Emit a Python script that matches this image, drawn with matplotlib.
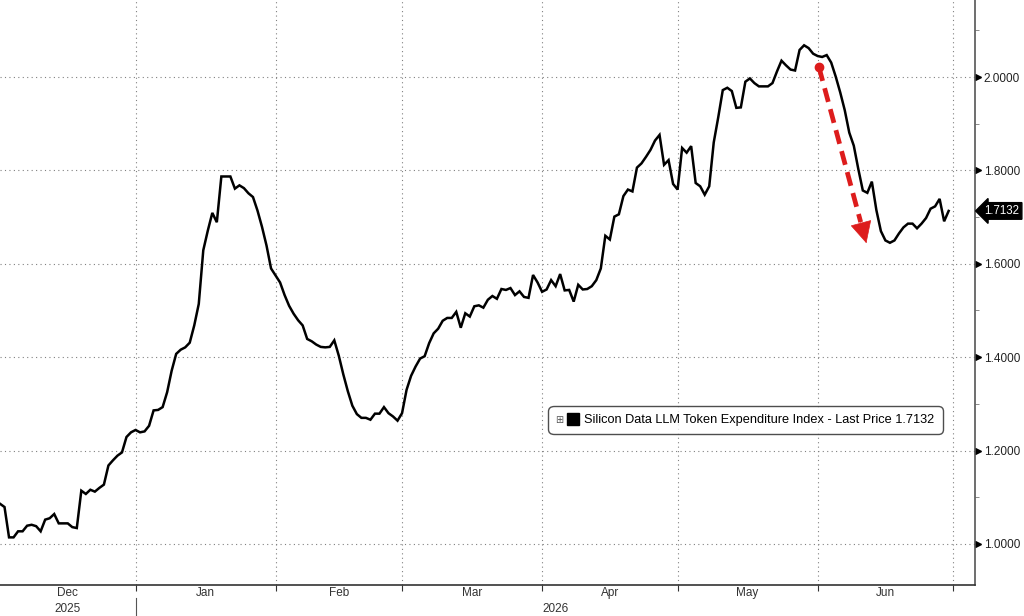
import numpy as np
import pandas as pd
import matplotlib
matplotlib.use("Agg")
import matplotlib.pyplot as plt
import matplotlib.dates as mdates
from matplotlib.lines import Line2D
from matplotlib.ticker import FixedLocator, MultipleLocator

plt.rcParams['font.family'] = ['Liberation Sans', 'DejaVu Sans']

# daily index values, starting 2 Dec 2025
start_date = "2025-12-02"
values = [
    1.086, 1.079, 1.014, 1.014, 1.027, 1.027, 1.039, 1.041, 1.038, 1.027,
    1.052, 1.055, 1.064, 1.044, 1.044, 1.044, 1.036, 1.034, 1.114, 1.107,
    1.116, 1.112, 1.120, 1.127, 1.168, 1.179, 1.189, 1.196, 1.229, 1.239,
    1.244, 1.239, 1.241, 1.253, 1.286, 1.287, 1.293, 1.325, 1.371, 1.407,
    1.416, 1.421, 1.431, 1.468, 1.514, 1.629, 1.671, 1.709, 1.689, 1.787,
    1.787, 1.787, 1.761, 1.768, 1.762, 1.751, 1.743, 1.714, 1.679, 1.639,
    1.590, 1.575, 1.560, 1.533, 1.510, 1.493, 1.479, 1.468, 1.439, 1.434,
    1.427, 1.422, 1.421, 1.422, 1.436, 1.403, 1.363, 1.327, 1.296, 1.278,
    1.270, 1.270, 1.266, 1.279, 1.279, 1.293, 1.280, 1.273, 1.264, 1.280,
    1.330, 1.360, 1.380, 1.397, 1.402, 1.430, 1.451, 1.461, 1.478, 1.484,
    1.484, 1.497, 1.463, 1.494, 1.487, 1.509, 1.511, 1.506, 1.523, 1.531,
    1.525, 1.546, 1.544, 1.548, 1.533, 1.541, 1.529, 1.527, 1.576, 1.560,
    1.540, 1.545, 1.565, 1.552, 1.578, 1.543, 1.544, 1.519, 1.555, 1.545,
    1.546, 1.552, 1.565, 1.590, 1.660, 1.652, 1.701, 1.706, 1.745, 1.759,
    1.755, 1.806, 1.815, 1.829, 1.844, 1.864, 1.876, 1.812, 1.822, 1.771,
    1.759, 1.848, 1.838, 1.852, 1.773, 1.766, 1.748, 1.766, 1.860, 1.914,
    1.972, 1.977, 1.970, 1.934, 1.935, 1.990, 1.997, 1.987, 1.980, 1.980,
    1.980, 1.987, 2.012, 2.035, 2.025, 2.016, 2.014, 2.058, 2.068, 2.062,
    2.050, 2.045, 2.043, 2.047, 2.031, 2.001, 1.967, 1.929, 1.881, 1.853,
    1.803, 1.757, 1.752, 1.776, 1.715, 1.670, 1.650, 1.645, 1.650, 1.665,
    1.678, 1.686, 1.686, 1.676, 1.686, 1.698, 1.718, 1.723, 1.739, 1.691,
    1.7132,
]
last_price = 1.7132
series_name = "Silicon Data LLM Token Expenditure Index"

month_starts = ["2025-12-01", "2026-01-01", "2026-02-01", "2026-03-01",
                "2026-04-01", "2026-05-01", "2026-06-01", "2026-07-01"]
month_labels = ["Dec", "Jan", "Feb", "Mar", "Apr", "May", "Jun"]
year_labels = ["2025", "2026"]
year_starts = ["2025-01-01", "2026-01-01", "2027-01-01"]
y_ticks = [1.0, 1.2, 1.4, 1.6, 1.8, 2.0]

# red arrow (start -> tip)
arrow_from = ("2026-06-01 07:00", 2.021)
arrow_to = ("2026-06-11 19:00", 1.644)

dates = pd.date_range(start_date, periods=len(values), freq="D")
x_left = pd.Timestamp(start_date)
x_right = x_left + pd.Timedelta(days=215.9)

fig = plt.figure(figsize=(10.24, 6.16), dpi=100)
ax = fig.add_axes([0.0, 31 / 616, 975.3 / 1024, 585 / 616])

ax.plot(dates, values, color='black', lw=1.8, solid_joinstyle='miter', zorder=3)

ax.set_xlim(x_left, x_right)
ax.set_ylim(0.912, 2.165)

# spines
for s in ['left', 'top']:
    ax.spines[s].set_visible(False)
ax.spines['right'].set_color('#555555')
ax.spines['right'].set_linewidth(1.2)
ax.spines['bottom'].set_color('#333333')
ax.spines['bottom'].set_linewidth(1.2)

# y axis on the right
ax.yaxis.tick_right()
ax.yaxis.set_major_locator(FixedLocator(y_ticks))
ax.yaxis.set_minor_locator(MultipleLocator(0.1))
ax.set_yticklabels(["%.4f" % t for t in y_ticks])
ax.tick_params(axis='y', which='major', length=0, pad=6, labelsize=8.5, labelcolor='#222222')
ax.tick_params(axis='y', which='minor', length=3, width=0.6, color='#777777', direction='out')
ytr = ax.get_yaxis_transform()
ax.plot([1.003] * len(y_ticks), y_ticks, ls='none', marker='>', ms=4.5, color='black',
        transform=ytr, clip_on=False)

# x axis: month boundaries
mstarts = pd.to_datetime(month_starts)
ax.xaxis.set_major_locator(FixedLocator(mdates.date2num(mstarts)))
ax.xaxis.set_major_formatter(plt.NullFormatter())
ax.tick_params(axis='x', which='major', length=4, width=0.8, color='#333333', direction='out')

ax.grid(True, which='major', color='#808080', lw=0.8, ls=(0, (1, 3)))

xtr = ax.get_xaxis_transform()
for i, lab in enumerate(month_labels):
    a = max(mstarts[i], x_left)
    b = min(mstarts[i + 1], x_right)
    mid = a + (b - a) / 2
    ax.text(mid, -0.0137, lab, transform=xtr, ha='center', va='center', fontsize=8.5, color='#333333')

ystarts = pd.to_datetime(year_starts)
for i, lab in enumerate(year_labels):
    a = max(ystarts[i], x_left)
    b = min(ystarts[i + 1], x_right)
    mid = a + (b - a) / 2
    ax.text(mid, -0.041, lab, transform=xtr, ha='center', va='center', fontsize=8.5, color='#333333')
    if ystarts[i] > x_left:
        ax.plot([ystarts[i], ystarts[i]], [-0.022, -0.06], transform=xtr, color='#555555',
                lw=0.8, clip_on=False)

# last price tag
ax.text(1.0095, last_price, "%.4f" % last_price, transform=ytr, ha='left', va='center',
        fontsize=8.3, color='white',
        bbox=dict(boxstyle='larrow,pad=0.2', fc='black', ec='black'))

# red dashed arrow
a0 = pd.Timestamp(arrow_from[0])
a1 = pd.Timestamp(arrow_to[0])
ax.plot([a0], [arrow_from[1]], marker='o', ms=6, color='#dd1c1c', zorder=4)
frac = 0.88
mid_x = a0 + (a1 - a0) * frac
mid_y = arrow_from[1] + (arrow_to[1] - arrow_from[1]) * frac
ax.plot([a0, mid_x], [arrow_from[1], mid_y], color='#dd1c1c', lw=3.4, ls=(0, (3, 1.6)),
        zorder=4, solid_capstyle='butt')
ax.annotate("", xy=(a1, arrow_to[1]), xytext=(mid_x, mid_y),
            arrowprops=dict(arrowstyle='-|>,head_length=1.2,head_width=0.6', color='#dd1c1c',
                            lw=0.5, shrinkA=0, shrinkB=0, mutation_scale=12), zorder=4)

# legend box
handle = Line2D([], [], ls='none', marker='s', ms=8, color='black')
leg = ax.legend([handle], [series_name + " - Last Price %.4f" % last_price],
                loc='center left', bbox_to_anchor=(551 / 975.3, (585 - 420) / 585),
                fontsize=9.2, frameon=True, fancybox=True, handlelength=2.6,
                handletextpad=-0.45, borderpad=0.45, borderaxespad=0)
frame = leg.get_frame()
frame.set_edgecolor('#222222')
frame.set_linewidth(1.0)
frame.set_boxstyle('round,pad=0.2,rounding_size=0.4')
ax.text(559.5 / 975.3, (585 - 420) / 585, "\u229e", transform=ax.transAxes, ha='center',
        va='center', fontsize=7, color='#555555', family='DejaVu Sans', zorder=6)

fig.savefig("out.png", dpi=100)
